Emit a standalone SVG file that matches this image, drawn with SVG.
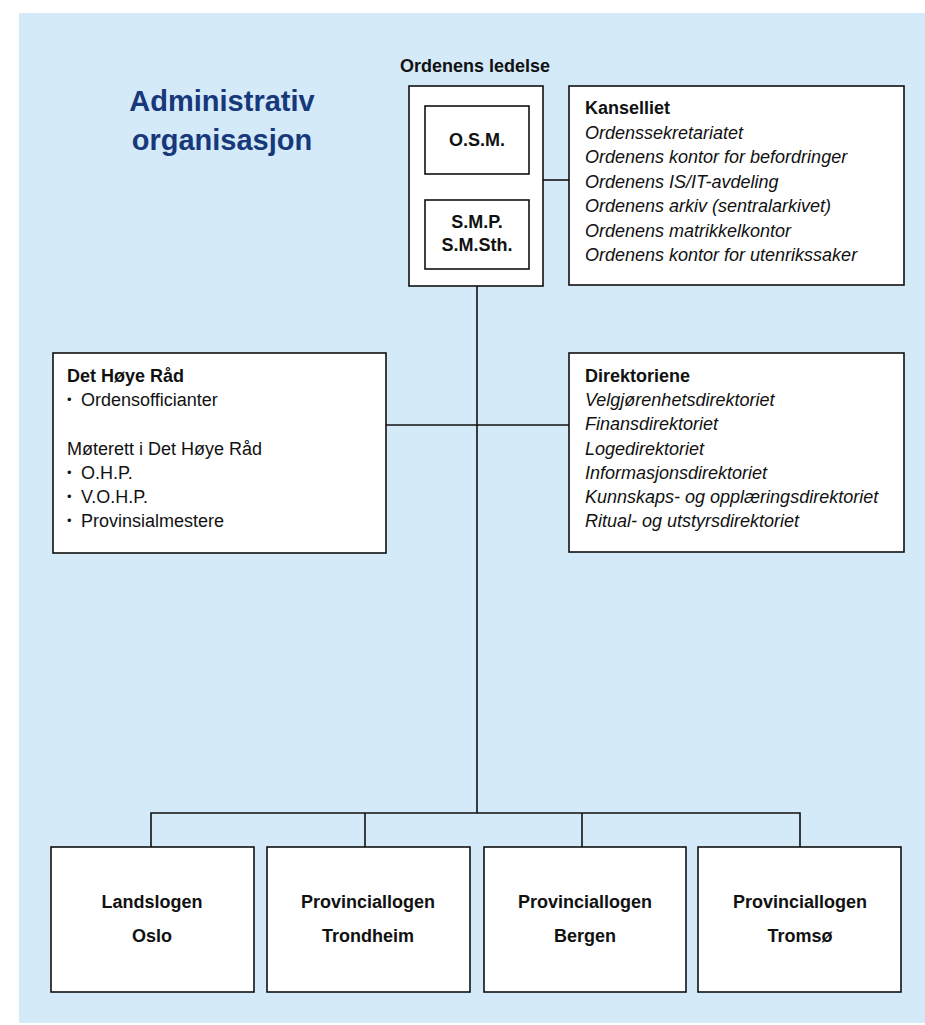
<svg xmlns="http://www.w3.org/2000/svg" width="925" height="1025" viewBox="0 0 925 1025">
<style>
.box{fill:#fff;stroke:#111;stroke-width:1.6}
.ln{stroke:#111;stroke-width:1.6;fill:none}
text{font-family:"Liberation Sans",Arial,sans-serif;fill:#111}
.b{font-weight:bold;font-size:18px}
.i{font-style:italic;font-size:18px}
.r{font-size:18px}
.bu{font-size:13px}
.c{text-anchor:middle}
.title{font-weight:bold;font-size:29px;fill:#17387a;text-anchor:middle}
</style>
<rect x="19" y="13" width="906" height="1010" fill="#d4eaf9"/>
<g id="title">
<text class="title" x="222" y="111">Administrativ</text>
<text class="title" x="222" y="150">organisasjon</text>
</g>
<g id="connectors">
<line class="ln" x1="477" y1="286" x2="477" y2="813"/>
<line class="ln" x1="543" y1="180" x2="569" y2="180"/>
<line class="ln" x1="386" y1="425" x2="569" y2="425"/>
<polyline class="ln" points="151,847 151,813 800,813 800,847"/>
<line class="ln" x1="365" y1="813" x2="365" y2="847"/>
<line class="ln" x1="582" y1="813" x2="582" y2="847"/>
</g>
<g id="ledelse">
<text class="b c" x="475" y="72">Ordenens ledelse</text>
<rect class="box" x="409" y="86" width="134" height="200"/>
</g>
<g id="osm">
<rect class="box" x="425" y="106" width="104" height="68"/>
<text class="b c" x="477" y="146">O.S.M.</text>
</g>
<g id="smp">
<rect class="box" x="425" y="200" width="104" height="69"/>
<text class="b c" x="477" y="228">S.M.P.</text>
<text class="b c" x="477" y="251">S.M.Sth.</text>
</g>
<g id="kanselliet">
<rect class="box" x="569" y="86" width="335" height="199"/>
<text class="b" x="585" y="114">Kanselliet</text>
<text class="i" x="585" y="139">Ordenssekretariatet</text>
<text class="i" x="585" y="163">Ordenens kontor for befordringer</text>
<text class="i" x="585" y="188">Ordenens IS/IT-avdeling</text>
<text class="i" x="585" y="212">Ordenens arkiv (sentralarkivet)</text>
<text class="i" x="585" y="237">Ordenens matrikkelkontor</text>
<text class="i" x="585" y="261">Ordenens kontor for utenrikssaker</text>
</g>
<g id="hoyerad">
<rect class="box" x="53" y="353" width="333" height="200"/>
<text class="b" x="67" y="382">Det Høye Råd</text>
<text class="bu" x="67" y="404">•</text><text class="r" x="81" y="406">Ordensofficianter</text>
<text class="r" x="67" y="455">Møterett i Det Høye Råd</text>
<text class="bu" x="67" y="477">•</text><text class="r" x="81" y="479">O.H.P.</text>
<text class="bu" x="67" y="501">•</text><text class="r" x="81" y="503">V.O.H.P.</text>
<text class="bu" x="67" y="525">•</text><text class="r" x="81" y="527">Provinsialmestere</text>
</g>
<g id="direktoriene">
<rect class="box" x="569" y="353" width="335" height="199"/>
<text class="b" x="585" y="382">Direktoriene</text>
<text class="i" x="585" y="406">Velgjørenhetsdirektoriet</text>
<text class="i" x="585" y="430">Finansdirektoriet</text>
<text class="i" x="585" y="455">Logedirektoriet</text>
<text class="i" x="585" y="479">Informasjonsdirektoriet</text>
<text class="i" x="585" y="503">Kunnskaps- og opplæringsdirektoriet</text>
<text class="i" x="585" y="527">Ritual- og utstyrsdirektoriet</text>
</g>
<g id="oslo">
<rect class="box" x="51" y="847" width="203" height="145"/>
<text class="b c" x="152" y="908">Landslogen</text>
<text class="b c" x="152" y="942">Oslo</text>
</g>
<g id="trondheim">
<rect class="box" x="267" y="847" width="203" height="145"/>
<text class="b c" x="368" y="908">Provinciallogen</text>
<text class="b c" x="368" y="942">Trondheim</text>
</g>
<g id="bergen">
<rect class="box" x="484" y="847" width="202" height="145"/>
<text class="b c" x="585" y="908">Provinciallogen</text>
<text class="b c" x="585" y="942">Bergen</text>
</g>
<g id="tromso">
<rect class="box" x="698" y="847" width="203" height="145"/>
<text class="b c" x="800" y="908">Provinciallogen</text>
<text class="b c" x="800" y="942">Tromsø</text>
</g>
</svg>
